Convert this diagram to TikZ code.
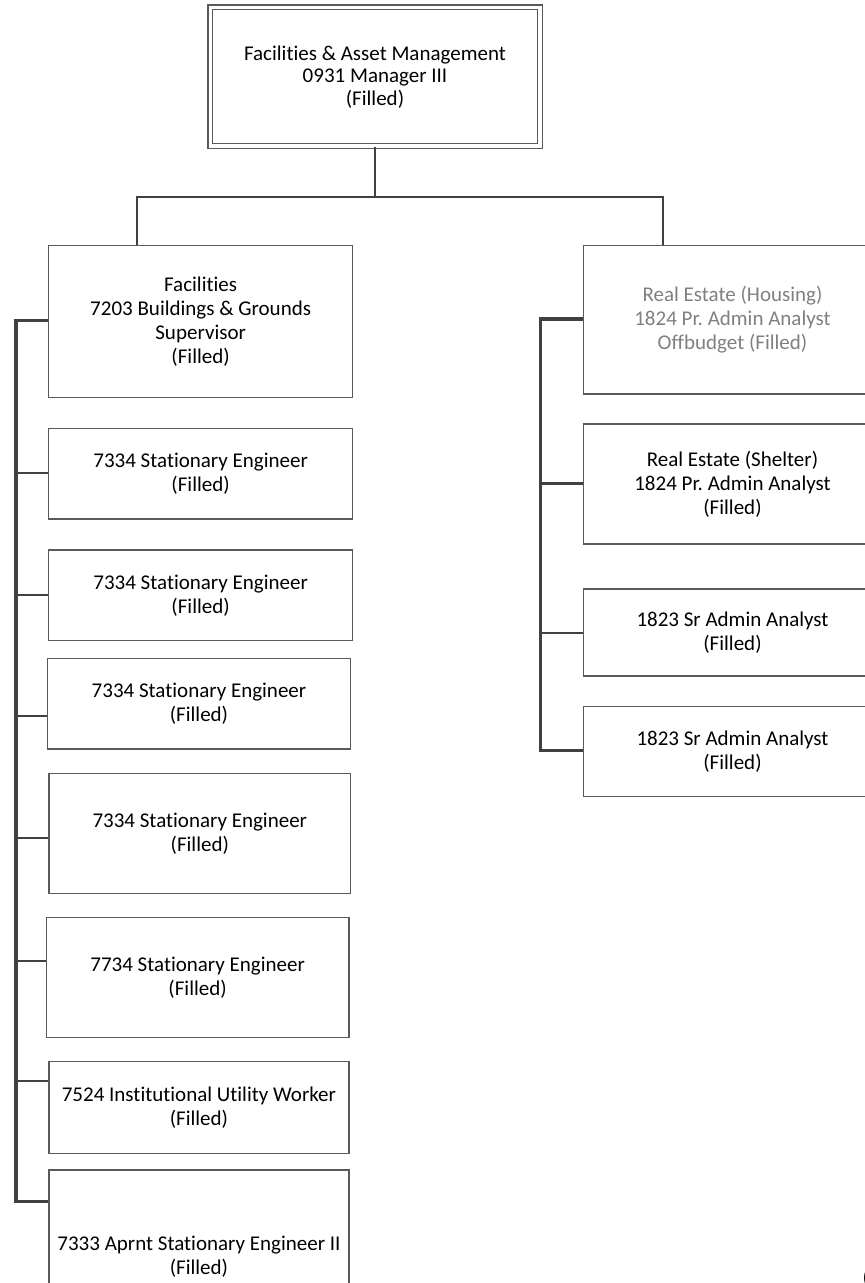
\documentclass[tikz,border=0pt]{standalone}
\usepackage{fontspec}
\setmainfont{Carlito}[Ligatures=NoCommon]
\frenchspacing
\definecolor{linegray}{RGB}{64,64,64}
\definecolor{boxgray}{RGB}{90,90,90}
\definecolor{softtext}{RGB}{128,128,128}
\tikzset{
  box/.style={draw=boxgray, line width=1.3pt, align=center, inner sep=2pt, anchor=north west},
  topbox/.style={draw=boxgray, line width=1.2pt, double=white, double distance=3.5pt, align=center,
    font=\fontsize{21}{22.5}\selectfont},
  conn/.style={draw=linegray, line width=2.3pt},
  bus/.style={draw=linegray, line width=3.3pt},
  tick/.style={draw=linegray, line width=2.4pt}
}
\begin{document}
\begin{tikzpicture}[x=1pt,y=-1pt,font=\fontsize{21}{24}\selectfont]
        \useasboundingbox (0,0) rectangle (865,1283);
        \clip (0,0) rectangle (865,1283);
        \node[topbox, minimum width=329.5pt, minimum height=138.8pt] (A) at (375,76.7) {Facilities \& Asset Management\\0931 Manager III\\(Filled)};
        % left column
        \node[box, minimum width=304pt, minimum height=152pt] (B) at (48,245) {Facilities\\7203 Buildings \& Grounds\\Supervisor\\(Filled)};
        \node[box, minimum width=304pt, minimum height=90.6pt] (D) at (48,427.7) {7334 Stationary Engineer\\(Filled)};
        \node[box, minimum width=304pt, minimum height=90.7pt] (E) at (48,549.3) {7334 Stationary Engineer\\(Filled)};
        \node[box, minimum width=303.3pt, minimum height=90.6pt] (F) at (46.7,657.7) {7334 Stationary Engineer\\(Filled)};
        \node[box, minimum width=301.7pt, minimum height=120pt] (G) at (48.3,772.7) {7334 Stationary Engineer\\(Filled)};
        \node[box, minimum width=302.6pt, minimum height=120pt] (H) at (45.7,916.7) {7734 Stationary Engineer\\(Filled)};
        \node[box, minimum width=300pt, minimum height=91.7pt] (I) at (48.3,1061) {7524 Institutional Utility Worker\\(Filled)};
        \node[box, minimum width=300pt, minimum height=174pt] (J) at (48.3,1169.3) {7333 Aprnt Stationary Engineer II\\(Filled)};
        % right column
        \node[box, minimum width=298.3pt, minimum height=148.6pt, text=softtext] (C) at (582.7,244.7) {Real Estate (Housing)\\1824 Pr. Admin Analyst\\Offbudget (Filled)};
        \node[box, minimum width=298.3pt, minimum height=120pt] (K) at (582.7,423.3) {Real Estate (Shelter)\\1824 Pr. Admin Analyst\\(Filled)};
        \node[box, minimum width=298.3pt, minimum height=87pt] (L) at (582.7,588.3) {1823 Sr Admin Analyst\\(Filled)};
        \node[box, minimum width=298.3pt, minimum height=90pt] (M) at (582.7,706) {1823 Sr Admin Analyst\\(Filled)};
        \node[anchor=base west] (N) at (859,1284) {(};
        % top tree
        \coordinate (hub) at (375,196.7);
        \coordinate (hl) at (137.3,196.7);
        \coordinate (hr) at (663.3,196.7);
        \draw[conn] (A.south) -- (hub);
        \draw[conn] (hl |- B.north) -- (hl) -- (hr) -- (hr |- C.north);
        % left bus
        \coordinate (lt) at (16,320.7);
        \coordinate (lb) at (16,1201.7);
        \draw[bus] (lt -| B.west) -- (lt) -- (lb) -- (lb -| J.west);
        \foreach \n/\y in {D/473, E/594.7, F/716, G/838, H/961, I/1081}
          {\coordinate (t\n) at (16,\y);
           \draw[tick] (t\n) -- (t\n -| \n.west);}
        % right bus
        \coordinate (rt) at (540.7,319);
        \coordinate (rb) at (540.7,750.7);
        \draw[bus] (rt -| C.west) -- (rt) -- (rb) -- (rb -| M.west);
        \foreach \n/\y in {K/483.3, L/632.7}
          {\coordinate (t\n) at (540.7,\y);
           \draw[tick] (t\n) -- (t\n -| \n.west);}
    \end{tikzpicture}
\end{document}
